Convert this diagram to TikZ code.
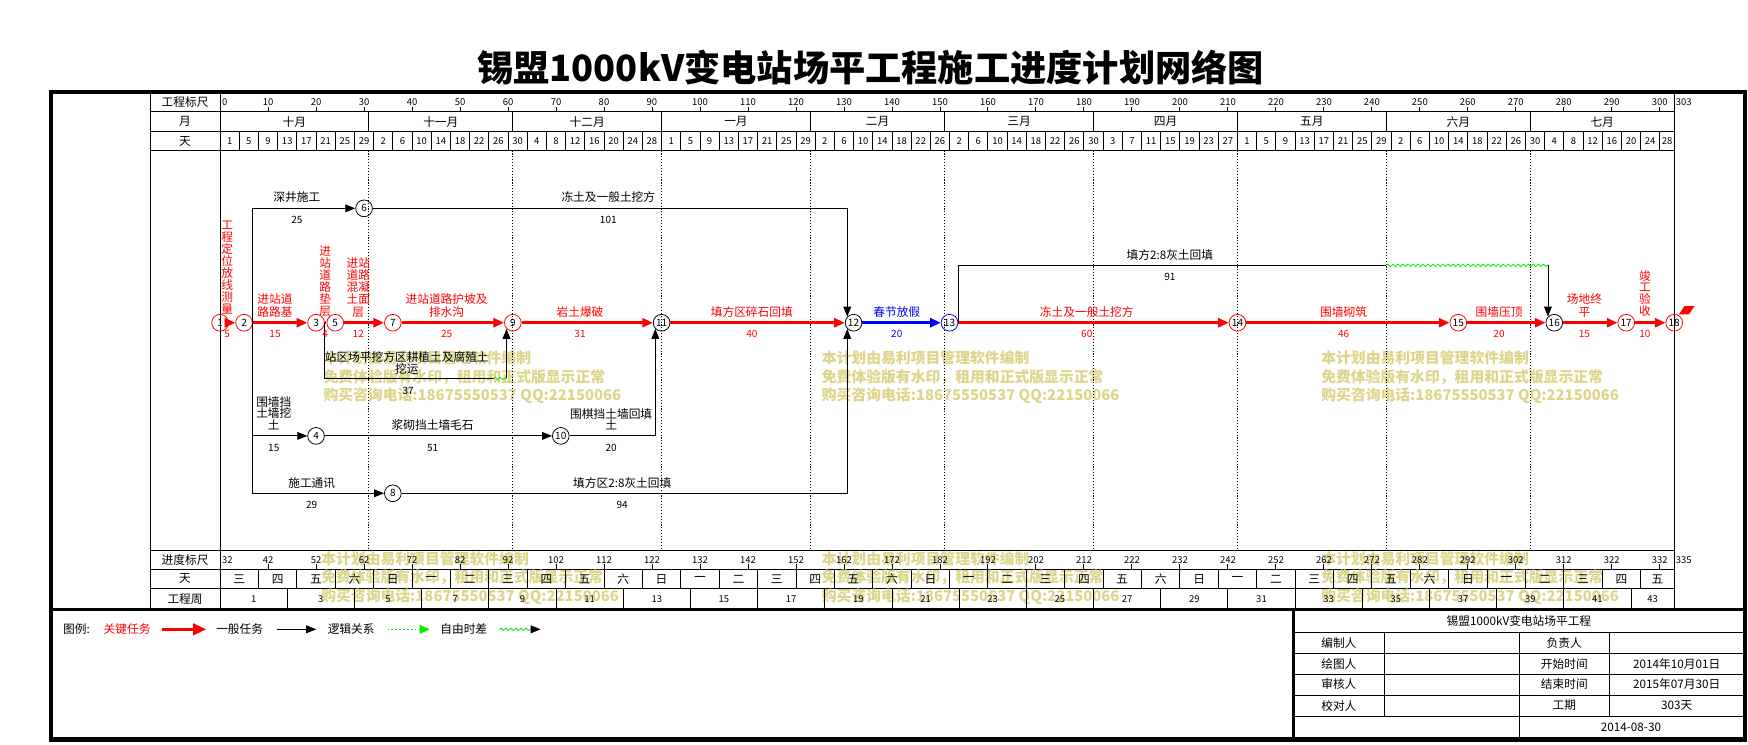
\documentclass[tikz,border=0pt]{standalone}
\usepackage{fontspec}
\setmainfont{Noto Sans CJK SC}
\usetikzlibrary{arrows.meta,decorations.pathmorphing}

\definecolor{keyred}{RGB}{255,0,0}
\definecolor{restblue}{RGB}{0,0,255}
\definecolor{floatgreen}{RGB}{0,235,0}
\definecolor{wmark}{RGB}{221,213,140}

\newcommand{\setfs}[2]{\fontsize{#1}{#2}\selectfont}
\newcommand{\wkday}[1]{\ifcase#1 一\or 二\or 三\or 四\or 五\or 六\or 日\fi}

\begin{document}
\begin{tikzpicture}[x=1pt, y=-1pt,
  thinline/.style={line width=0.8pt},
  evt/.style={draw, circle, minimum size=15pt, inner sep=0pt, line width=0.7pt, font=\setfs{9}{9}},
  keyevt/.style={evt, draw=keyred},
  restevt/.style={evt, draw=restblue},
  keyact/.style={draw=keyred, line width=2.4pt, -{Triangle[length=9.5pt,width=8pt]}},
  restact/.style={draw=restblue, line width=2.4pt, -{Triangle[length=9.5pt,width=8pt]}},
  genline/.style={draw=black, line width=0.8pt},
  genact/.style={genline, -{Triangle[length=9pt,width=7pt]}},
  floatline/.style={draw=floatgreen, line width=0.7pt, decorate,
    decoration={snake, amplitude=1.1pt, segment length=4.5pt}},
  lbl/.style={font=\setfs{10.5}{11}, align=center, inner sep=0pt},
  keylbl/.style={lbl, text=keyred},
  restlbl/.style={lbl, text=restblue},
  vlbl/.style={keylbl, font=\setfs{10.5}{10.7}},
  num/.style={font=\setfs{8.5}{8.5}, inner sep=0pt},
  dur/.style={font=\setfs{9}{9}, inner sep=0pt},
  monthline/.style={line width=0.7pt, dash pattern=on 1pt off 1.6pt},
  wm/.style={font=\setfs{13.3}{16.7}\bfseries, text=wmark, align=left, inner sep=0pt, anchor=west}]

\useasboundingbox (0,0) rectangle (1568,667.4);

% title
\node[font=\setfs{32.5}{33}\bfseries] (title) at (781,60.5) {锡盟1000kV变电站场平工程施工进度计划网络图};

% frame and rulings
\draw[line width=3.8pt] (45.6,82.5) rectangle (1565,663.3);
\draw[thinline] (134.7,82.5) -- (134.7,547) (197.4,82.5) -- (197.4,547) (1501.8,82.5) -- (1501.8,547);
\foreach \yy in {100.3,118,135,493.4,510.7,527.8}
  \draw[thinline] (134.7,\yy) -- (1501.8,\yy);
\draw[line width=2.5pt] (45.6,547) -- (1565,547);

\node[lbl] (hscale) at (166,91.8) {工程标尺};
\node[lbl] (hmonth) at (166,109.2) {月};
\node[lbl] (hday) at (166,126.5) {天};
\node[lbl] (bscale) at (166,502) {进度标尺};
\node[lbl] (bday) at (166,519.3) {天};
\node[lbl] (bweek) at (166,537.4) {工程周};

% watermarks
\foreach \wx/\wy [count=\wi] in {290/338.4,737/338.4,1185/338.4,288/518.3,737/518.3,1185/518.3}
  \node[wm] (wm\wi) at (\wx,\wy) {本计划由易利项目管理软件编制\\免费体验版有水印，租用和正式版显示正常\\购买咨询电话:18675550537 QQ:22150066};

\begin{scope}[xshift=197.4pt, x=4.305pt]
  % top scale
  \foreach \d in {10,20,...,300} {
    \draw[thinline] (\d,100.3) -- (\d,95.8);
    \node[num] (ts\d) at (\d,91.8) {\d};
  }
  \node[num, anchor=west] (ts0) at (0.4,91.8) {0};
  \node[num, anchor=west] (tsend) at (303.3,91.8) {303};
  \foreach \a/\b/\m in {0/31/十月,31/61/十一月,61/92/十二月,92/123/一月,123/151/二月,
      151/182/三月,182/212/四月,212/243/五月,243/273/六月,273/303/七月} {
    \draw[thinline] (\b,100.3) -- (\b,118);
    \node[lbl] (mo\a) at ({(\a+\b)/2},109.2) {\m};
  }
  \foreach \d in {4,8,...,300} \draw[thinline] (\d,118) -- (\d,135);
  \foreach \dd [count=\i from 0] in {1,5,9,13,17,21,25,29,2,6,10,14,18,22,26,30,4,8,12,16,20,24,28,
      1,5,9,13,17,21,25,29,2,6,10,14,18,22,26,2,6,10,14,18,22,26,30,3,7,11,15,19,23,27,
      1,5,9,13,17,21,25,29,2,6,10,14,18,22,26,30,4,8,12,16,20,24,28} {
    \pgfmathsetmacro\cx{min(4*\i+2,301.5)}
    \node[num] (dy\i) at (\cx,126.5) {\dd};
  }
  \foreach \d in {31,61,92,123,151,182,212,243,273} \draw[monthline] (\d,135) -- (\d,493.4);

  % bottom scale
  \foreach \d in {10,20,...,300} {
    \pgfmathtruncatemacro\v{\d+32}
    \draw[thinline] (\d,510.7) -- (\d,506.2);
    \node[num] (bs\d) at (\d,502) {\v};
  }
  \node[num, anchor=west] (bs0) at (0.4,502) {32};
  \node[num, anchor=west] (bsend) at (303.3,502) {335};
  \foreach \d in {8,16,...,296} \draw[thinline] (\d,510.7) -- (\d,527.8);
  \foreach \j in {0,...,37} {
    \pgfmathsetmacro\cx{min(8*\j+4,299.5)}
    \pgfmathtruncatemacro\k{mod(\j+2,7)}
    \node[lbl] (wd\j) at (\cx,519.3) {\wkday{\k}};
  }
  \foreach \d in {14,28,...,294} \draw[thinline] (\d,527.8) -- (\d,547);
  \foreach \j in {0,...,21} {
    \pgfmathsetmacro\cx{min(14*\j+7,298.5)}
    \pgfmathtruncatemacro\wn{2*\j+1}
    \node[num] (wk\j) at (\cx,537.4) {\wn};
  }

  % events
  \node[keyevt] (n1) at (0,289.5) {1};
  \node[keyevt] (n2) at (5,289.5) {2};
  \node[keyevt] (n3) at (20,289.5) {3};
  \node[keyevt] (n5) at (24,289.5) {5};
  \node[keyevt] (n7) at (36,289.5) {7};
  \node[keyevt] (n9) at (61,289.5) {9};
  \node[evt] (n11) at (92,289.5) {11};
  \node[evt] (n12) at (132,289.5) {12};
  \node[restevt] (n13) at (152,289.5) {13};
  \node[keyevt] (n14) at (212,289.5) {14};
  \node[keyevt] (n15) at (258,289.5) {15};
  \node[evt] (n16) at (278,289.5) {16};
  \node[keyevt] (n17) at (293,289.5) {17};
  \node[keyevt] (n18) at (303,289.5) {18};
  \node[evt] (n6) at (30,186.9) {6};
  \node[evt] (n4) at (20,391) {4};
  \node[evt] (n10) at (71,391) {10};
  \node[evt] (n8) at (36,442.5) {8};
  \coordinate (f39) at (57,339.4);
  \coordinate (f1316) at (243,238);
  \fill[keyred] ([shift={(4.2pt,7.5pt)}]n18.center) -- ++(5pt,7.5pt) -- ++(9pt,0pt) -- ++(-5pt,-7.5pt) -- cycle;

  % critical path
  \draw[keyact] (n1) -- (n2);
  \draw[keyact] (n2) -- (n3);
  \draw[draw=keyred, line width=2.4pt] (n3) -- (n5);
  \draw[keyact] (n5) -- (n7);
  \draw[keyact] (n7) -- (n9);
  \draw[keyact] (n9) -- (n11);
  \draw[keyact] (n11) -- (n12);
  \draw[restact] (n12) -- (n13);
  \draw[keyact] (n13) -- (n14);
  \draw[keyact] (n14) -- (n15);
  \draw[keyact] (n15) -- (n16);
  \draw[keyact] (n16) -- (n17);
  \draw[keyact] (n17) -- (n18);

  % other work
  \draw[genact] (n2.east) |- (n6);
  \draw[genact] (n2.east) |- (n4);
  \draw[genact] (n2.east) |- (n8);
  \draw[genact] (n6) -| (n12.136);
  \draw[genact] (n8) -| (n12.224);
  \draw[genact] (n4) -- (n10);
  \draw[genact] (n10) -| (n11.224);
  \draw[genline] (n3.east) |- (f39);
  \draw[floatline] (f39) -- (f39 -| n9.224);
  \draw[genact] (f39 -| n9.224) -- (n9.224);
  \draw[genline] (n13.east) |- (f1316);
  \draw[floatline] (f1316) -- (f1316 -| n16.136);
  \draw[genact] (f1316 -| n16.136) -- (n16.136);

  % labels
  \node[vlbl] (a12) at (1.5,240) {工\\程\\定\\位\\放\\线\\测\\量};
  \node[keylbl, dur] (a12d) at (1.5,299.6) {5};
  \node[keylbl] (a23) at (11.45,274.1) {进站道\\路路基};
  \node[keylbl, dur] (a23d) at (11.45,299.6) {15};
  \node[vlbl] (a35) at (21.9,252) {进\\站\\道\\路\\垫\\层};
  \node[keylbl, dur] (a35d) at (21.9,299.6) {4};
  \node[keylbl] (a57) at (28.8,257.6) {进站\\道路\\混凝\\土面\\层};
  \node[keylbl, dur] (a57d) at (28.8,299.6) {12};
  \node[keylbl] (a79) at (47.2,274.1) {进站道路护坡及\\排水沟};
  \node[keylbl, dur] (a79d) at (47.2,299.6) {25};
  \node[keylbl] (a911) at (75,279.6) {岩土爆破};
  \node[keylbl, dur] (a911d) at (75,299.6) {31};
  \node[keylbl] (a1112) at (110.8,279.6) {填方区碎石回填};
  \node[keylbl, dur] (a1112d) at (110.8,299.6) {40};
  \node[restlbl] (a1213) at (141,279.6) {春节放假};
  \node[restlbl, dur] (a1213d) at (141,299.6) {20};
  \node[keylbl] (a1314) at (180.6,279.6) {冻土及一般土挖方};
  \node[keylbl, dur] (a1314d) at (180.6,299.6) {60};
  \node[keylbl] (a1415) at (234.1,279.6) {围墙砌筑};
  \node[keylbl, dur] (a1415d) at (234.1,299.6) {46};
  \node[keylbl] (a1516) at (266.5,279.6) {围墙压顶};
  \node[keylbl, dur] (a1516d) at (266.5,299.6) {20};
  \node[keylbl] (a1617) at (284.3,274.1) {场地终\\平};
  \node[keylbl, dur] (a1617d) at (284.3,299.6) {15};
  \node[vlbl] (a1718) at (296.9,263.2) {竣\\工\\验\\收};
  \node[keylbl, dur] (a1718d) at (296.9,299.6) {10};

  \node[lbl] (a26) at (16,176.6) {深井施工};
  \node[dur] (a26d) at (16,197.3) {25};
  \node[lbl] (a612) at (80.9,177) {冻土及一般土挖方};
  \node[dur] (a612d) at (80.9,197.3) {101};
  \node[lbl] (a39) at (38.9,325.5) {站区场平挖方区耕植土及腐殖土\\挖运};
  \node[dur] (a39d) at (39.2,350.4) {37};
  \node[lbl, font=\setfs{10.5}{10.5}] (a24) at (11.2,370.7) {围墙挡\\土墙挖\\土};
  \node[dur] (a24d) at (11.2,402.2) {15};
  \node[lbl] (a410) at (44.3,381.2) {浆砌挡土墙毛石};
  \node[dur] (a410d) at (44.3,402.2) {51};
  \node[lbl, font=\setfs{10.5}{10.5}] (a1011) at (81.5,376) {围棋挡土墙回填\\土};
  \node[dur] (a1011d) at (81.5,402.2) {20};
  \node[lbl] (a28) at (19.1,433.5) {施工通讯};
  \node[dur] (a28d) at (19.1,453) {29};
  \node[lbl] (a812) at (83.8,433.5) {填方区2:8灰土回填};
  \node[dur] (a812d) at (83.8,453) {94};
  \node[lbl] (a1316) at (197.9,228.7) {填方2:8灰土回填};
  \node[dur] (a1316d) at (197.9,248.2) {91};
\end{scope}

% legend
\node[lbl, anchor=west] (lgtitle) at (56.5,564.5) {图例:};
\node[keylbl] (lgkey) at (114,564.5) {关键任务};
\coordinate (lk1) at (145.7,564.5);
\coordinate (lk2) at (185.2,564.5);
\draw[keyact, line width=3pt, -{Triangle[length=12pt,width=10pt]}] (lk1) -- (lk2);
\node[lbl] (lggen) at (215,564.5) {一般任务};
\coordinate (lg1) at (248.7,564.5);
\coordinate (lg2) at (283.7,564.5);
\draw[genact] (lg1) -- (lg2);
\node[lbl] (lglog) at (315,564.5) {逻辑关系};
\coordinate (ll1) at (347.6,564.5);
\coordinate (ll2) at (385.4,564.5);
\draw[draw=floatgreen, line width=0.8pt, dash pattern=on 1.5pt off 2pt, -{Triangle[length=9pt,width=8pt]}] (ll1) -- (ll2);
\node[lbl] (lgfree) at (416,564.5) {自由时差};
\coordinate (lf1) at (447.8,564.5);
\coordinate (lf2) at (476,564.5);
\coordinate (lf3) at (485,564.5);
\draw[floatline] (lf1) -- (lf2);
\draw[genact] (lf2) -- (lf3);

% title block
\draw[line width=2.5pt] (1160,547) -- (1160,663.3);
\foreach \yy in {567.2,586,604.6,623.4,642.3}
  \draw[thinline] (1160,\yy) -- (1565,\yy);
\draw[thinline] (1241.8,567.2) -- (1241.8,642.3) (1362.8,567.2) -- (1362.8,663.3) (1443.6,567.2) -- (1443.6,642.3);
\node[lbl] (tbname) at (1362.5,557.2) {锡盟1000kV变电站场平工程};
\foreach \yy/\l/\r/\v [count=\ti] in {576.6/编制人/负责人/{},595.3/绘图人/开始时间/2014年10月01日,
    614/审核人/结束时间/2015年07月30日,632.9/校对人/工期/303天} {
  \node[lbl] (tbl\ti) at (1201,\yy) {\l};
  \node[lbl] (tbr\ti) at (1403.2,\yy) {\r};
  \node[lbl] (tbv\ti) at (1504,\yy) {\v};
}
\node[lbl] (tbdate) at (1463,652.3) {2014-08-30};
\end{tikzpicture}
\end{document}
